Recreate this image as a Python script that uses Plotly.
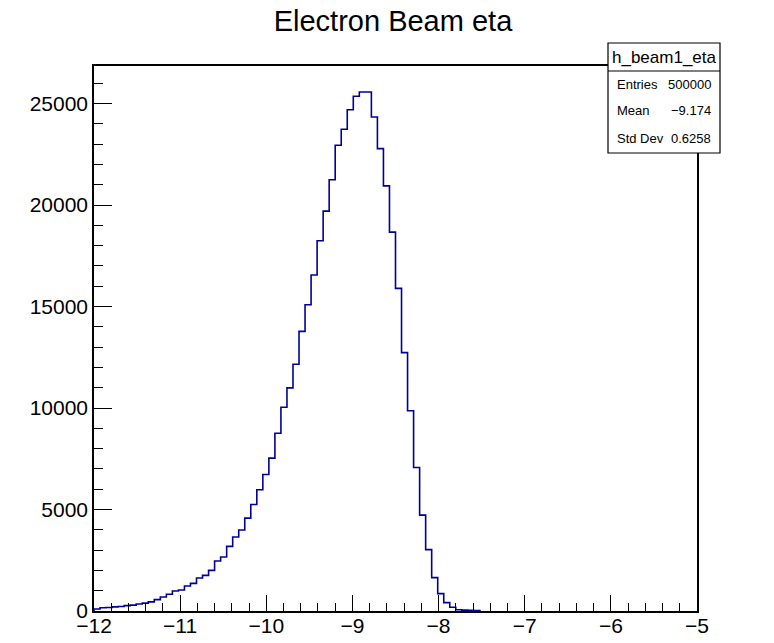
import plotly.graph_objects as go

# ---- data ----
x_low, x_high, n_bins = -12.0, -5.0, 100
counts = [
    100, 160, 175, 205, 225, 265, 290, 345, 390, 450,
    559, 691, 822, 986, 1035, 1232, 1363, 1625, 1757, 2003,
    2462, 2659, 3184, 3643, 3988, 4578, 5251, 5973, 6727, 7531,
    8759, 10039, 10994, 12155, 13779, 15093, 16554, 18243, 19704, 21250,
    22950, 23739, 24700, 25363, 25575, 25575, 24340, 22784, 20949, 18670,
    15895, 12731, 9870, 7071, 4724, 3022, 1644, 856, 413, 182,
    60, 45, 35, 25,
] + [0] * 36
hist_name = "h_beam1_eta"
stat_labels = ["Entries", "Mean", "Std Dev"]
stat_values = ["500000", "\u22129.174", "0.6258"]
title_text = "Electron Beam eta"
x_ticks = [-12, -11, -10, -9, -8, -7, -6, -5]
y_ticks = [0, 5000, 10000, 15000, 20000, 25000]

# ---- step line from bin edges ----
width = (x_high - x_low) / n_bins
last = max(i for i, c in enumerate(counts) if c > 0)
xs = [x_low + i * width for i in range(last + 2)]
ys = counts[: last + 1] + [counts[last]]
xs = [x_low] + xs + [xs[-1]]
ys = [0] + ys + [0]

W, H = 774, 643
L, R, T, B = 94, 697, 66, 611
FONT = "Liberation Sans, Arial, Helvetica, sans-serif"

def px(x):
    return (x - L) / (R - L)

def py(y):
    return (B - y) / (B - T)

fig = go.Figure()
fig.add_trace(go.Scatter(
    x=xs, y=ys, mode="lines", line=dict(color="#000099", width=1.6, shape="hv"),
    hoverinfo="skip", showlegend=False,
))

ymax = max(counts) * 1.05

fig.update_layout(
    width=W, height=H,
    margin=dict(l=L, r=W - R, t=T, b=H - B, pad=0, autoexpand=False),
    paper_bgcolor="white", plot_bgcolor="white",
    font=dict(family=FONT, color="black", size=21),
    title=dict(text=title_text, x=393 / W, xref="container", xanchor="center",
               y=1 - 21 / H, yref="container", yanchor="middle",
               font=dict(family=FONT, size=29, color="black")),
    xaxis=dict(range=[x_low, x_high], tickvals=x_ticks, ticks="inside", ticklen=16,
               tickwidth=1, tickcolor="black", showline=True, linecolor="black",
               linewidth=1.5, mirror=True, showgrid=False, zeroline=False,
               automargin=False, tickfont=dict(size=21), ticklabelstandoff=-5,
               minor=dict(dtick=0.2, ticks="inside", ticklen=8, tickwidth=1,
                          tickcolor="black", showgrid=False)),
    yaxis=dict(range=[0, ymax], tickvals=y_ticks, tickformat="d", ticks="inside",
               ticklen=18, tickwidth=1, tickcolor="black", showline=True,
               linecolor="black", linewidth=1.5, mirror=True, showgrid=False,
               zeroline=False, automargin=False, tickfont=dict(size=21),
               minor=dict(dtick=1000, ticks="inside", ticklen=9, tickwidth=1,
                          tickcolor="black", showgrid=False)),
)

# ---- stats box ----
bx0, bx1, by0, by1, bsep = 608, 720, 43, 153, 71
fig.add_shape(type="rect", xref="paper", yref="paper", layer="above",
              x0=px(bx0), x1=px(bx1), y0=py(by1), y1=py(by0),
              line=dict(color="black", width=1.2), fillcolor="white")
fig.add_shape(type="line", xref="paper", yref="paper", layer="above",
              x0=px(bx0), x1=px(bx1), y0=py(bsep), y1=py(bsep),
              line=dict(color="black", width=1.2))
fig.add_annotation(text=hist_name, xref="paper", yref="paper", x=px((bx0 + bx1) / 2),
                   y=py(57), xanchor="center", yanchor="middle", showarrow=False,
                   font=dict(family=FONT, size=17, color="black"))
row_y = [85, 111, 138]
for lab, val, ry in zip(stat_labels, stat_values, row_y):
    fig.add_annotation(text=lab, xref="paper", yref="paper", x=px(bx0 + 7), y=py(ry),
                       xanchor="left", yanchor="middle", showarrow=False,
                       font=dict(family=FONT, size=13, color="black"))
    fig.add_annotation(text=val, xref="paper", yref="paper", x=px(bx1 - 7), y=py(ry),
                       xanchor="right", yanchor="middle", showarrow=False,
                       font=dict(family=FONT, size=13, color="black"))

fig.write_html("out.html")
